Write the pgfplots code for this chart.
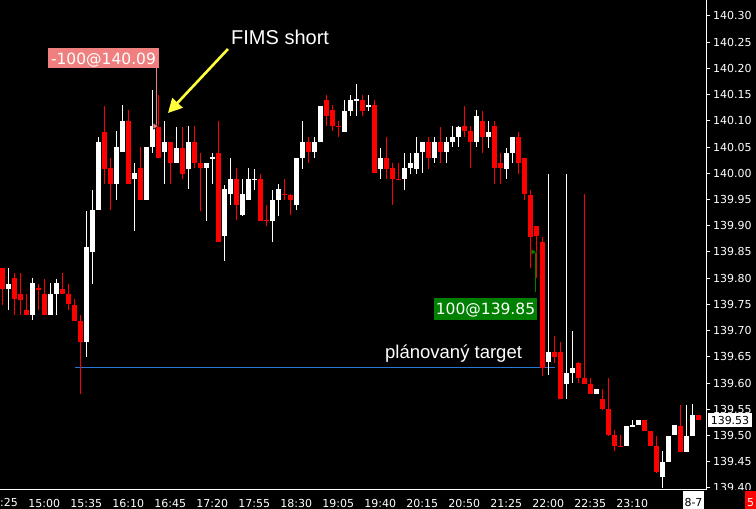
\documentclass[border=0pt]{standalone}
\usepackage{pgfplots}
\pgfplotsset{compat=1.18}
\usepackage{pgfplotstable}
\usepackage{fontspec}
\setmainfont{DejaVu Sans}
\newfontfamily\annofont{Liberation Sans}
\usetikzlibrary{arrows.meta}

\definecolor{candlered}{RGB}{255,0,0}
\definecolor{tradepink}{RGB}{240,128,128}
\definecolor{tradegreen}{RGB}{0,128,0}
\definecolor{targetblue}{RGB}{40,120,215}
\definecolor{arrowyellow}{RGB}{255,255,60}

% 5-min candles, i=0 is 14:25; up=1 white (close>open), up=0 red
\pgfplotstableread{
i o h l c up
0 139.82 139.82 139.75 139.78 0
1 139.78 139.82 139.74 139.79 1
2 139.80 139.81 139.73 139.76 0
3 139.77 139.81 139.73 139.76 0
4 139.74 139.77 139.73 139.73 0
5 139.73 139.80 139.72 139.79 1
6 139.78 139.79 139.74 139.78 0
7 139.77 139.80 139.73 139.73 0
8 139.73 139.79 139.73 139.77 1
9 139.77 139.80 139.73 139.79 1
10 139.78 139.81 139.77 139.77 0
11 139.77 139.79 139.74 139.75 0
12 139.75 139.76 139.72 139.72 0
13 139.72 139.73 139.58 139.68 0
14 139.68 139.93 139.65 139.86 1
15 139.85 139.97 139.79 139.93 1
16 139.93 140.07 139.93 140.06 1
17 140.08 140.13 139.98 140.01 0
18 140.01 140.03 139.93 139.98 0
19 139.98 140.08 139.95 140.05 1
20 140.04 140.13 140.04 140.10 1
21 140.10 140.12 139.98 139.98 0
22 139.99 140.02 139.89 140.00 1
23 140.01 140.05 139.95 139.95 0
24 139.95 140.05 139.95 140.05 1
25 140.05 140.16 140.04 140.09 1
26 140.09 140.15 140.03 140.03 0
27 140.04 140.10 139.98 140.06 1
28 140.06 140.06 139.98 140.02 0
29 140.02 140.09 140.02 140.05 1
30 140.05 140.09 139.99 140.00 0
31 140.01 140.09 139.97 140.06 1
32 140.06 140.09 140.01 140.02 0
33 140.02 140.04 139.93 140.01 0
34 140.01 140.02 139.91 140.02 1
35 140.03 140.04 139.98 140.03 1
36 140.04 140.10 139.87 139.87 0
37 139.88 139.98 139.835 139.97 1
38 139.96 140.03 139.94 139.99 1
39 139.99 140.01 139.91 139.94 0
40 139.92 139.99 139.92 139.96 1
41 139.95 140.01 139.95 139.99 1
42 139.99 140.01 139.97 139.99 1
43 139.99 140.00 139.91 139.91 0
44 139.91 139.94 139.90 139.91 0
45 139.91 139.97 139.87 139.95 1
46 139.95 139.98 139.92 139.97 1
47 139.96 139.99 139.95 139.96 0
48 139.96 139.96 139.92 139.95 0
49 139.94 140.03 139.93 140.03 1
50 140.03 140.10 140.01 140.06 1
51 140.06 140.07 140.02 140.04 0
52 140.04 140.07 140.03 140.06 1
53 140.06 140.13 140.06 140.13 1
54 140.14 140.15 140.09 140.11 0
55 140.12 140.13 140.08 140.09 0
56 140.09 140.10 140.07 140.09 0
57 140.08 140.14 140.08 140.12 1
58 140.12 140.15 140.11 140.14 1
59 140.14 140.17 140.11 140.14 1
60 140.14 140.15 140.11 140.12 0
61 140.13 140.15 140.12 140.13 1
62 140.13 140.14 140.00 140.00 0
63 140.01 140.05 139.99 140.03 1
64 140.03 140.07 139.99 140.01 0
65 140.01 140.02 139.94 139.99 0
66 139.99 140.02 139.99 139.99 0
67 139.99 140.04 139.97 140.01 1
68 140.01 140.04 140.00 140.02 1
69 140.01 140.07 140.00 140.04 1
70 140.04 140.06 140.00 140.06 1
71 140.06 140.07 140.01 140.03 0
72 140.03 140.07 140.02 140.06 1
73 140.06 140.09 140.02 140.04 0
74 140.04 140.07 140.02 140.06 1
75 140.06 140.09 140.05 140.07 1
76 140.07 140.09 140.05 140.09 1
77 140.09 140.13 140.07 140.08 0
78 140.08 140.09 140.01 140.06 0
79 140.06 140.12 140.05 140.11 1
80 140.10 140.12 140.04 140.07 0
81 140.07 140.10 140.05 140.08 1
82 140.09 140.10 139.98 140.01 0
83 140.02 140.04 139.98 140.01 0
84 140.01 140.05 139.99 140.04 1
85 140.04 140.07 140.02 140.07 1
86 140.07 140.08 140.00 140.02 0
87 140.03 140.03 139.95 139.96 0
88 139.96 139.97 139.82 139.88 0
89 139.90 139.90 139.80 139.88 0
90 139.87 139.88 139.615 139.63 0
91 139.64 140.00 139.615 139.66 1
92 139.66 139.69 139.64 139.65 0
93 139.66 139.68 139.57 139.57 0
94 139.60 140.00 139.57 139.62 1
95 139.62 139.70 139.60 139.63 1
96 139.64 139.64 139.60 139.61 0
97 139.61 139.96 139.60 139.60 0
98 139.60 139.61 139.58 139.58 0
99 139.58 139.59 139.58 139.59 1
100 139.57 139.59 139.55 139.55 0
101 139.55 139.61 139.50 139.50 0
102 139.50 139.51 139.47 139.48 0
103 139.48 139.50 139.48 139.48 0
104 139.48 139.52 139.48 139.52 1
105 139.52 139.53 139.52 139.52 1
106 139.52 139.53 139.52 139.53 1
107 139.53 139.53 139.51 139.51 0
108 139.51 139.51 139.48 139.48 0
109 139.48 139.50 139.43 139.43 0
110 139.42 139.47 139.40 139.45 1
111 139.45 139.50 139.45 139.50 1
112 139.50 139.52 139.50 139.52 1
113 139.52 139.56 139.47 139.47 0
114 139.47 139.56 139.47 139.50 1
115 139.50 139.56 139.50 139.54 1
116 139.54 139.54 139.53 139.53 0
}\candles

\pgfplotsset{
  wick/.style={only marks, mark=*, mark size=0pt, mark options={draw=none, fill=none},
    error bars/.cd, y dir=both, y explicit, error mark=none,
    error bar style={#1, line width=1pt}, /pgfplots/.cd},
  body/.style={only marks, mark=*, mark size=0pt, mark options={draw=none, fill=none},
    error bars/.cd, y dir=both, y explicit, error mark=none,
    error bar style={#1, line width=5pt}, /pgfplots/.cd},
  upc/.style={restrict expr to domain={\thisrow{up}}{0.5:1.5}},
  downc/.style={restrict expr to domain={\thisrow{up}}{-0.5:0.5}},
}

\begin{document}
\begin{tikzpicture}[x=1pt,y=1pt]
\useasboundingbox (0,0) rectangle (756,509);
\fill[black] (0,0) rectangle (756,509);
\begin{axis}[
    at={(0pt,19pt)}, anchor=south west,
    width=706pt, height=490pt, scale only axis,
    xmin=-0.383, xmax=117.28,
    ymin=139.396, ymax=140.3305,
    axis x line*=bottom, axis y line*=right,
    axis line style={white, line width=1pt},
    tick align=outside,
    major tick length=4pt,
    tick style={white, line width=1pt},
    x tick style={draw=none},
    xtick={7,14,...,105},
    xticklabels={15:00,15:35,16:10,16:45,17:20,17:55,18:30,19:05,19:40,20:15,20:50,21:25,22:00,22:35,23:10},
    ytick={139.40,139.45,139.50,139.55,139.60,139.65,139.70,139.75,139.80,139.85,139.90,139.95,140.00,140.05,140.10,140.15,140.20,140.25,140.30},
    yticklabels={139.40,139.45,139.50,139.55,139.60,139.65,139.70,139.75,139.80,139.85,139.90,139.95,140.00,140.05,140.10,140.15,140.20,140.25,140.30},
    xticklabel style={text=white, font=\fontsize{11}{13}\selectfont, anchor=base, yshift=-13pt},
    yticklabel style={text=white, font=\fontsize{11}{13}\selectfont, anchor=west, inner sep=1pt, xshift=2pt},
]
% planned target level
\draw[targetblue, line width=1pt] (axis cs:12.12,139.63) -- (axis cs:92.12,139.63);

\addplot[upc, wick=white]
  table[x=i, y expr={(\thisrow{h}+\thisrow{l})/2}, y error expr={(\thisrow{h}-\thisrow{l})/2}] {\candles};
\addplot[downc, wick=candlered]
  table[x=i, y expr={(\thisrow{h}+\thisrow{l})/2}, y error expr={(\thisrow{h}-\thisrow{l})/2}] {\candles};
\addplot[upc, body=white]
  table[x=i, y expr={(\thisrow{o}+\thisrow{c})/2}, y error expr={max(abs(\thisrow{c}-\thisrow{o})/2,0.001)}] {\candles};
\addplot[downc, body=candlered]
  table[x=i, y expr={(\thisrow{o}+\thisrow{c})/2}, y error expr={max(abs(\thisrow{c}-\thisrow{o})/2,0.001)}] {\candles};

% trade connectors
\draw[tradepink, line width=1pt] (axis cs:25.78,140.205) -- (axis cs:25.78,140.09);
\draw[tradegreen, line width=1pt] (axis cs:88.87,139.85) -- (axis cs:88.87,139.774);
% trade markers
\addplot[only marks, mark=triangle*, mark size=3.6pt, mark options={rotate=-90, fill=tradepink, draw=none}]
  coordinates {(25.45,140.09)};
\addplot[only marks, mark=triangle*, mark size=3.6pt, mark options={rotate=-90, fill=tradegreen, draw=none}]
  coordinates {(88.45,139.85)};
\end{axis}

% annotations in pixel coordinates (y down)
\begin{scope}[shift={(0,509)}, yscale=-1]
  \fill[black] (706,490) rectangle (756,509);
  \node[anchor=base west, text=white, inner sep=0pt, font=\fontsize{11}{13}\selectfont] at (0,506.5) {:25};
  \fill[tradepink] (48,48) rectangle (159,68);
  \node[anchor=base, text=white, inner sep=0pt, font=\fontsize{15.5}{16}\selectfont] at (103.5,64.5) {-100@140.09};
  \node[anchor=base west, text=white, inner sep=0pt, font=\annofont\fontsize{20}{22}\selectfont] at (231,45) {FIMS short};
  \draw[arrowyellow, line width=2.6pt, -{Triangle[length=14pt,width=14pt]}] (228,49) -- (168,113);
  \fill[tradegreen] (434,298) rectangle (537,320);
  \node[anchor=base, text=white, inner sep=0pt, font=\fontsize{15.5}{16}\selectfont] at (485.5,315) {100@139.85};
  \node[anchor=base west, text=white, inner sep=0pt, font=\annofont\fontsize{18.5}{20}\selectfont] at (385,359) {plánovaný target};
  \fill[white] (708,413) rectangle (752,427);
  \node[text=black, inner sep=0pt, font=\fontsize{11}{13}\selectfont] at (730,420) {139.53};
  \fill[white] (683,491) rectangle (704,509);
  \node[anchor=base, text=black, inner sep=0pt, font=\fontsize{11}{13}\selectfont] at (693.5,506.5) {8-7};
  \fill[candlered] (745,491) rectangle (756,509);
  \node[anchor=base, text=white, inner sep=0pt, font=\fontsize{11}{13}\selectfont] at (750.5,506.5) {5};
\end{scope}
\end{tikzpicture}
\end{document}
